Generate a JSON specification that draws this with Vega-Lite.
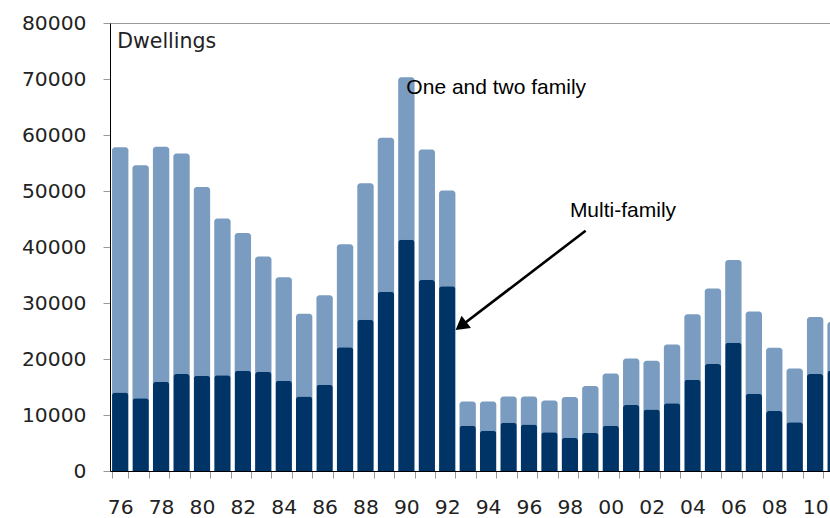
{
  "$schema": "https://vega.github.io/schema/vega-lite/v6.json",
  "width": 720,
  "height": 448,
  "autosize": {"type": "none"},
  "padding": {"left": 110, "top": 23, "right": 0, "bottom": 47},
  "background": "white",
  "config": {
    "view": {"stroke": null},
    "font": "DejaVu Sans",
    "axis": {
      "title": null,
      "domainColor": "#000000",
      "domainWidth": 1,
      "tickColor": "#999999",
      "tickSize": 7,
      "labelFont": "DejaVu Sans",
      "labelFontSize": 20.3,
      "labelColor": "#222222"
    }
  },
  "datasets": {
    "bars": [
      {"year": 1976, "type": "Multi-family", "dwellings": 14000}, {"year": 1976, "type": "One and two family", "dwellings": 43800},
      {"year": 1977, "type": "Multi-family", "dwellings": 13000}, {"year": 1977, "type": "One and two family", "dwellings": 41600},
      {"year": 1978, "type": "Multi-family", "dwellings": 15900}, {"year": 1978, "type": "One and two family", "dwellings": 42000},
      {"year": 1979, "type": "Multi-family", "dwellings": 17300}, {"year": 1979, "type": "One and two family", "dwellings": 39400},
      {"year": 1980, "type": "Multi-family", "dwellings": 17000}, {"year": 1980, "type": "One and two family", "dwellings": 33700},
      {"year": 1981, "type": "Multi-family", "dwellings": 17100}, {"year": 1981, "type": "One and two family", "dwellings": 28000},
      {"year": 1982, "type": "Multi-family", "dwellings": 17900}, {"year": 1982, "type": "One and two family", "dwellings": 24600},
      {"year": 1983, "type": "Multi-family", "dwellings": 17700}, {"year": 1983, "type": "One and two family", "dwellings": 20600},
      {"year": 1984, "type": "Multi-family", "dwellings": 16100}, {"year": 1984, "type": "One and two family", "dwellings": 18500},
      {"year": 1985, "type": "Multi-family", "dwellings": 13300}, {"year": 1985, "type": "One and two family", "dwellings": 14800},
      {"year": 1986, "type": "Multi-family", "dwellings": 15400}, {"year": 1986, "type": "One and two family", "dwellings": 16000},
      {"year": 1987, "type": "Multi-family", "dwellings": 22100}, {"year": 1987, "type": "One and two family", "dwellings": 18400},
      {"year": 1988, "type": "Multi-family", "dwellings": 27000}, {"year": 1988, "type": "One and two family", "dwellings": 24400},
      {"year": 1989, "type": "Multi-family", "dwellings": 32000}, {"year": 1989, "type": "One and two family", "dwellings": 27500},
      {"year": 1990, "type": "Multi-family", "dwellings": 41300}, {"year": 1990, "type": "One and two family", "dwellings": 29000},
      {"year": 1991, "type": "Multi-family", "dwellings": 34100}, {"year": 1991, "type": "One and two family", "dwellings": 23300},
      {"year": 1992, "type": "Multi-family", "dwellings": 33000}, {"year": 1992, "type": "One and two family", "dwellings": 17100},
      {"year": 1993, "type": "Multi-family", "dwellings": 8100}, {"year": 1993, "type": "One and two family", "dwellings": 4300},
      {"year": 1994, "type": "Multi-family", "dwellings": 7200}, {"year": 1994, "type": "One and two family", "dwellings": 5200},
      {"year": 1995, "type": "Multi-family", "dwellings": 8600}, {"year": 1995, "type": "One and two family", "dwellings": 4700},
      {"year": 1996, "type": "Multi-family", "dwellings": 8300}, {"year": 1996, "type": "One and two family", "dwellings": 5000},
      {"year": 1997, "type": "Multi-family", "dwellings": 6900}, {"year": 1997, "type": "One and two family", "dwellings": 5700},
      {"year": 1998, "type": "Multi-family", "dwellings": 5900}, {"year": 1998, "type": "One and two family", "dwellings": 7300},
      {"year": 1999, "type": "Multi-family", "dwellings": 6800}, {"year": 1999, "type": "One and two family", "dwellings": 8400},
      {"year": 2000, "type": "Multi-family", "dwellings": 8100}, {"year": 2000, "type": "One and two family", "dwellings": 9300},
      {"year": 2001, "type": "Multi-family", "dwellings": 11800}, {"year": 2001, "type": "One and two family", "dwellings": 8300},
      {"year": 2002, "type": "Multi-family", "dwellings": 11000}, {"year": 2002, "type": "One and two family", "dwellings": 8700},
      {"year": 2003, "type": "Multi-family", "dwellings": 12100}, {"year": 2003, "type": "One and two family", "dwellings": 10500},
      {"year": 2004, "type": "Multi-family", "dwellings": 16300}, {"year": 2004, "type": "One and two family", "dwellings": 11700},
      {"year": 2005, "type": "Multi-family", "dwellings": 19100}, {"year": 2005, "type": "One and two family", "dwellings": 13500},
      {"year": 2006, "type": "Multi-family", "dwellings": 22900}, {"year": 2006, "type": "One and two family", "dwellings": 14800},
      {"year": 2007, "type": "Multi-family", "dwellings": 13800}, {"year": 2007, "type": "One and two family", "dwellings": 14700},
      {"year": 2008, "type": "Multi-family", "dwellings": 10700}, {"year": 2008, "type": "One and two family", "dwellings": 11300},
      {"year": 2009, "type": "Multi-family", "dwellings": 8700}, {"year": 2009, "type": "One and two family", "dwellings": 9600},
      {"year": 2010, "type": "Multi-family", "dwellings": 17300}, {"year": 2010, "type": "One and two family", "dwellings": 10200},
      {"year": 2011, "type": "Multi-family", "dwellings": 17900}, {"year": 2011, "type": "One and two family", "dwellings": 8700}
    ],
    "notes": [
      {"label": "Dwellings", "year": 1976, "value": 75600, "style": "axis"},
      {"label": "One and two family", "year": 1990, "value": 67400, "style": "note"},
      {"label": "Multi-family", "year": 1998, "value": 45400, "style": "note"}
    ],
    "arrow": [
      {"x": 1998.77, "y": 42900, "x2": 1992.67, "y2": 25900}
    ]
  },
  "layer": [
    {
      "layer": [
        {
          "data": {"name": "bars"},
          "mark": {"type": "bar", "color": "#7a9cc0", "cornerRadiusTopLeft": 3, "cornerRadiusTopRight": 3},
          "encoding": {
            "x": {
              "field": "year",
              "type": "ordinal",
              "scale": {"type": "band", "paddingInner": 0.2, "paddingOuter": 0.1, "range": [0, 735.8]},
              "axis": {
                "labelAngle": 0,
                "tickBand": "extent",
                "labelPadding": 19,
                "labelOverlap": false,
                "labelExpr": "datum.value % 2 == 0 ? substring(toString(datum.value), 2) : ''"
              }
            },
            "y": {
              "aggregate": "sum",
              "field": "dwellings",
              "type": "quantitative",
              "scale": {"domain": [0, 80000], "nice": false},
              "axis": {
                "values": [0, 10000, 20000, 30000, 40000, 50000, 60000, 70000, 80000],
                "format": "d",
                "labelPadding": 17,
                "grid": true,
                "gridColor": "#999999",
                "gridOpacity": {"condition": {"test": "datum.value === 80000", "value": 1}, "value": 0}
              }
            }
          }
        },
        {
          "data": {"name": "bars"},
          "transform": [{"filter": "datum.type === 'Multi-family'"}],
          "mark": {"type": "bar", "color": "#003466", "cornerRadiusTopLeft": 3, "cornerRadiusTopRight": 3},
          "encoding": {
            "x": {"field": "year", "type": "ordinal"},
            "y": {"field": "dwellings", "type": "quantitative"}
          }
        },
        {
          "data": {"name": "notes"},
          "transform": [{"filter": "datum.style === 'axis'"}],
          "mark": {"type": "text", "align": "left", "baseline": "alphabetic", "dx": -3, "font": "DejaVu Sans", "fontSize": 20.5, "color": "#222222"},
          "encoding": {
            "x": {"field": "year", "type": "ordinal"},
            "y": {"field": "value", "type": "quantitative"},
            "text": {"field": "label"}
          }
        },
        {
          "data": {"name": "notes"},
          "transform": [{"filter": "datum.style === 'note'"}],
          "mark": {"type": "text", "align": "left", "baseline": "alphabetic", "dx": 0, "font": "Liberation Sans", "fontSize": 21, "color": "#000000"},
          "encoding": {
            "x": {"field": "year", "type": "ordinal"},
            "y": {"field": "value", "type": "quantitative"},
            "text": {"field": "label"}
          }
        }
      ]
    },
    {
      "data": {"name": "arrow"},
      "layer": [
        {
          "mark": {"type": "rule", "color": "#000000", "strokeWidth": 2.6},
          "encoding": {
            "x": {"field": "x", "type": "quantitative", "scale": {"domain": [1975.5, 2011.5], "nice": false, "zero": false, "range": [0, 735.8]}, "axis": null},
            "y": {"field": "y", "type": "quantitative"},
            "x2": {"field": "x2"},
            "y2": {"field": "y2"}
          }
        },
        {
          "mark": {"type": "point", "shape": "triangle-up", "filled": true, "color": "#000000", "size": 240, "angle": 232.6, "opacity": 1},
          "encoding": {
            "x": {"field": "x2", "type": "quantitative"},
            "y": {"field": "y2", "type": "quantitative"}
          }
        }
      ]
    }
  ],
  "resolve": {"scale": {"x": "independent"}, "axis": {"x": "independent"}}
}
